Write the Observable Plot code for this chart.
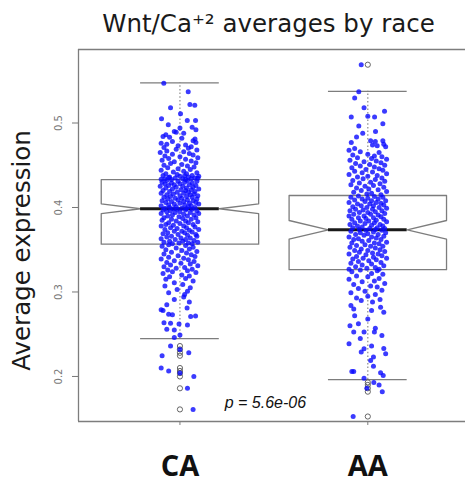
<!DOCTYPE html>
<html><head><meta charset="utf-8">
<script src="https://cdn.jsdelivr.net/npm/d3@7"></script>
<script src="https://cdn.jsdelivr.net/npm/@observablehq/plot@0.6"></script>
<style>html,body{margin:0;padding:0;background:#fff;} svg{display:block}</style>
</head><body><div id="chart"></div>
<script>
// ---- data ----
const groups = ["CA", "AA"];
const groupPos = [1, 2];
const q1 = [0.3566, 0.3264];
const medians = [0.3985, 0.3736];
const q3 = [0.4329, 0.4142];
const whiskerLow = [0.2448, 0.1962];
const whiskerHigh = [0.5474, 0.5375];
const notchHalf = [0.0058, 0.011];
const yTicks = [0.2, 0.3, 0.4, 0.5];
const titleText = "Wnt/Ca\u207A\u00B2 averages by race";
const yLabel = "Average expression";
const pNote = {x: 1.455, y: 0.1693, text: "p = 5.6e-06"};

// [value, horizontal jitter]
const caPoints = [
[0.547,-0.086],[0.537,0.044],[0.522,0.053],[0.521,0.079],[0.518,-0.05],[0.511,0.003],[0.505,-0.098],[0.503,0.039],[0.503,0.083],[0.498,-0.062],[0.495,0.065],[0.494,0.0],[0.492,0.085],[0.49,-0.03],[0.489,-0.02],[0.488,0.02],[0.486,-0.075],[0.484,-0.09],[0.483,-0.055],[0.482,0.01],[0.481,0.08],[0.479,0.07],[0.478,-0.04],[0.477,0.085],[0.476,-0.1],[0.475,-0.07],[0.474,0.03],[0.473,-0.01],[0.472,0.06],[0.471,-0.085],[0.47,0.045],
[0.469,-0.02],[0.468,0.09],[0.467,-0.07],[0.466,0.02],[0.465,-0.105],[0.464,0.05],[0.463,-0.04],[0.462,0.07],[0.461,-0.08],[0.460,0.0],[0.459,0.095],[0.458,-0.06],[0.457,0.03],[0.456,-0.095],[0.455,0.06],[0.454,-0.03],[0.453,0.085],[0.452,-0.05],[0.451,0.01],[0.450,-0.085],[0.449,0.04],[0.448,0.075],[0.447,-0.065],[0.446,-0.01],[0.445,0.055],[0.444,-0.1],[0.443,0.02],[0.442,-0.035],[0.441,0.09],[0.440,-0.075],[0.440,0.035],[0.439,-0.015],[0.438,0.065],[0.438,-0.09],[0.437,0.0],[0.437,0.1],[0.436,-0.055],[0.436,0.045],[0.435,-0.025],[0.435,0.08],[0.434,-0.08],[0.434,0.015],[0.434,0.06],[0.433,-0.045],[0.433,0.03],[0.4335,-0.1],[0.4345,0.095],[0.4355,-0.06],[0.4375,0.025],
[0.432,-0.07],[0.432,0.04],[0.431,-0.01],[0.431,0.09],[0.430,-0.095],[0.430,0.025],[0.429,-0.045],[0.429,0.065],[0.428,0.0],[0.428,-0.08],[0.427,0.05],[0.427,-0.03],[0.426,0.085],[0.426,-0.06],[0.425,0.015],[0.425,-0.105],[0.424,0.07],[0.424,-0.02],[0.423,0.035],[0.423,-0.075],[0.422,0.1],[0.422,-0.04],[0.421,0.005],[0.421,0.06],[0.420,-0.09],[0.420,0.03],[0.419,-0.055],[0.419,0.08],[0.418,-0.015],[0.418,0.045],[0.417,-0.1],[0.417,0.02],[0.416,0.075],[0.416,-0.035],[0.415,0.055],[0.415,-0.07],[0.414,0.0],[0.414,0.095],[0.413,-0.05],[0.413,0.035],[0.412,-0.085],[0.412,0.065],[0.411,-0.025],[0.411,0.01],[0.410,0.09],[0.410,-0.065],[0.409,0.04],[0.409,-0.01],[0.408,-0.095],[0.408,0.07],[0.407,0.02],[0.407,-0.045],[0.406,0.085],[0.406,-0.075],[0.405,0.0],[0.405,0.05],[0.404,-0.03],[0.404,0.1],[0.403,-0.06],[0.403,0.025],[0.402,0.06],[0.402,-0.1],[0.401,-0.02],[0.401,0.045],[0.400,0.08],[0.400,-0.055],[0.399,0.01],[0.399,-0.08],[0.3985,0.035],[0.3985,-0.035],
[0.398,0.065],[0.398,-0.015],[0.397,-0.09],[0.397,0.03],[0.396,0.09],[0.396,-0.05],[0.395,0.0],[0.395,-0.07],[0.394,0.055],[0.394,-0.025],[0.393,0.1],[0.393,-0.1],[0.392,0.02],[0.391,-0.04],[0.391,0.075],[0.390,-0.065],[0.390,0.04],[0.389,-0.005],[0.388,0.085],[0.388,-0.085],[0.387,0.015],[0.386,-0.045],[0.386,0.06],[0.385,-0.095],[0.384,0.03],[0.384,-0.02],[0.383,0.095],[0.382,-0.06],[0.382,0.045],[0.381,0.0],[0.380,-0.075],[0.380,0.07],[0.379,-0.035],[0.378,0.02],[0.378,-0.1],[0.377,0.08],[0.376,-0.05],[0.376,0.035],[0.375,-0.015],[0.374,0.1],[0.374,-0.08],[0.373,0.05],[0.372,-0.03],[0.372,0.01],[0.371,0.065],[0.370,-0.065],[0.370,0.025],[0.369,-0.09],[0.368,0.085],[0.368,-0.01],[0.367,0.04],[0.366,-0.045],[0.366,0.09],[0.365,-0.07],[0.364,0.005],[0.364,0.055],[0.363,-0.1],[0.362,0.03],[0.362,-0.025],[0.361,0.075],[0.360,-0.055],[0.360,0.015],[0.359,0.095],[0.359,-0.085],[0.358,-0.005],[0.358,0.045],[0.357,-0.04],[0.357,0.065],
[0.356,-0.06],[0.355,0.03],[0.354,-0.095],[0.353,0.07],[0.352,-0.02],[0.351,0.05],[0.350,-0.075],[0.349,0.01],[0.348,0.09],[0.347,-0.045],[0.346,0.035],[0.345,-0.085],[0.344,0.06],[0.343,-0.01],[0.342,0.08],[0.341,-0.06],[0.340,0.02],[0.339,-0.1],[0.338,0.045],[0.337,-0.03],[0.336,0.075],[0.335,-0.07],[0.334,0.005],[0.333,0.055],[0.332,-0.05],[0.331,0.095],[0.330,-0.085],[0.329,0.025],[0.328,-0.02],[0.327,0.065],[0.326,-0.065],[0.325,0.04],[0.324,-0.04],[0.323,0.085],[0.322,-0.09],[0.320,0.01],[0.319,0.05],[0.318,-0.055],[0.316,0.03],[0.315,-0.075],[0.313,0.07],[0.311,-0.03],[0.309,0.015],[0.307,-0.08],[0.305,0.055],[0.303,-0.015],[0.301,0.04],[0.299,-0.06],[0.297,0.025],
[0.294,0.02],[0.291,-0.03],[0.288,0.05],[0.285,-0.07],[0.281,0.038],[0.279,-0.1],[0.278,-0.09],[0.2735,-0.06],[0.273,-0.04],[0.2715,0.083],[0.271,0.057],[0.2635,-0.085],[0.263,-0.05],[0.262,-0.005],[0.261,0.04],[0.2558,-0.07],[0.255,-0.03],[0.249,0.0],[0.246,-0.03],
[0.236,-0.05],[0.232,0.0],[0.228,0.047],[0.2245,-0.095],[0.210,-0.1],[0.2065,-0.06],[0.204,0.0],[0.200,0.074],[0.186,0.04],[0.161,0.07]
];

const aaPoints = [
[0.569,-0.035],[0.537,-0.048],[0.5296,-0.07],[0.518,-0.02],[0.514,0.089],[0.507,-0.088],[0.508,0.0],[0.507,0.036],[0.499,0.08],[0.4965,-0.048],[0.490,0.041],[0.488,-0.027],[0.4834,-0.06],[0.479,0.015],[0.478,0.04],[0.479,0.08],[0.475,0.085],[0.4768,-0.088],[0.474,0.025],[0.473,0.05],[0.472,0.095],[0.4697,-0.07],[0.4677,-0.1],[0.466,-0.04],[0.465,0.06],[0.463,0.0],[0.462,-0.08],[0.461,0.035],[0.460,0.075],
[0.459,-0.055],[0.458,0.02],[0.457,0.1],[0.456,-0.095],[0.455,0.045],[0.454,-0.02],[0.453,0.07],[0.452,-0.065],[0.451,0.01],[0.450,0.09],[0.449,-0.04],[0.448,0.035],[0.447,-0.085],[0.446,0.06],[0.445,-0.01],[0.444,0.08],[0.443,-0.07],[0.442,0.025],[0.441,-0.03],[0.440,0.1],[0.439,-0.1],[0.438,0.05],[0.437,0.0],[0.436,-0.055],[0.435,0.075],[0.434,-0.025],[0.433,0.04],[0.432,-0.08],[0.431,0.09],[0.430,0.015],[0.429,-0.045],[0.428,0.065],[0.427,-0.09],[0.426,0.03],[0.425,-0.015],[0.424,0.085],[0.423,-0.06],[0.422,0.005],[0.421,0.055],[0.420,-0.035],[0.419,0.1],[0.418,-0.075],[0.417,0.02],[0.416,-0.005],[0.415,0.07],
[0.4135,-0.05],[0.413,0.035],[0.412,-0.09],[0.412,0.08],[0.411,0.0],[0.410,-0.03],[0.410,0.055],[0.409,-0.07],[0.408,0.02],[0.408,0.095],[0.407,-0.015],[0.406,-0.1],[0.406,0.045],[0.405,0.07],[0.404,-0.055],[0.404,0.01],[0.403,0.085],[0.402,-0.035],[0.402,0.03],[0.401,-0.08],[0.400,0.06],[0.400,-0.005],[0.399,0.1],[0.398,-0.065],[0.398,0.025],[0.397,-0.025],[0.396,0.075],[0.396,-0.095],[0.395,0.04],[0.394,-0.045],[0.394,0.0],[0.393,0.09],[0.392,-0.075],[0.392,0.015],[0.391,0.055],[0.390,-0.02],[0.390,-0.1],[0.389,0.07],[0.388,0.03],[0.388,-0.05],[0.387,-0.01],[0.386,0.085],[0.386,-0.085],[0.385,0.045],[0.384,-0.04],[0.384,0.005],[0.383,0.1],[0.382,-0.07],[0.382,0.035],[0.381,-0.015],[0.380,0.065],[0.380,-0.095],[0.379,0.02],[0.378,-0.055],[0.378,0.08],[0.377,-0.03],[0.376,0.05],[0.376,-0.08],[0.375,0.01],[0.375,0.09],[0.374,-0.045],[0.374,0.04],
[0.373,-0.01],[0.373,0.075],[0.372,-0.09],[0.371,0.03],[0.370,-0.04],[0.370,0.095],[0.369,0.0],[0.368,-0.065],[0.368,0.055],[0.367,-0.02],[0.366,0.085],[0.365,-0.1],[0.365,0.02],[0.364,0.045],[0.363,-0.05],[0.362,0.07],[0.362,-0.075],[0.361,0.005],[0.360,-0.03],[0.359,0.1],[0.358,-0.085],[0.358,0.035],[0.357,0.06],[0.356,-0.015],[0.355,-0.06],[0.354,0.08],[0.354,0.015],[0.353,-0.095],[0.352,0.04],[0.351,-0.035],[0.350,0.065],[0.349,-0.07],[0.349,0.0],[0.348,0.09],[0.347,-0.045],[0.346,0.025],[0.345,-0.1],[0.345,0.055],[0.344,-0.01],[0.343,0.075],[0.342,-0.06],[0.341,0.03],[0.340,-0.025],[0.340,0.1],[0.339,-0.08],[0.338,0.045],[0.337,0.005],[0.336,-0.05],[0.335,0.07],[0.334,-0.09],[0.333,0.02],[0.332,-0.03],[0.331,0.085],[0.330,-0.065],[0.329,0.04],[0.328,-0.005],[0.327,0.06],[0.327,-0.1],
[0.326,-0.04],[0.325,0.05],[0.324,-0.085],[0.322,0.02],[0.321,0.08],[0.319,-0.06],[0.318,0.0],[0.316,0.06],[0.315,-0.1],[0.313,0.035],[0.312,-0.03],[0.310,0.09],[0.309,-0.075],[0.307,0.015],[0.306,0.05],[0.304,-0.05],[0.302,0.075],[0.301,-0.015],[0.299,-0.09],[0.297,0.04],[0.295,0.0],[0.293,-0.06],[0.291,0.065],[0.290,-0.035],[0.288,0.025],
[0.284,-0.09],[0.282,0.068],[0.280,-0.075],[0.278,0.02],[0.276,0.085],[0.272,-0.07],[0.268,0.0],[0.2625,-0.05],[0.260,-0.095],[0.257,0.04],[0.2525,-0.075],[0.2525,-0.02],[0.2525,0.035],[0.2486,0.075],[0.245,-0.04],[0.2388,-0.1],[0.236,0.02],[0.2329,-0.02],[0.233,0.085],[0.2289,-0.035],[0.227,0.095],[0.2229,0.03],[0.219,0.015],[0.212,0.03],[0.206,-0.075],[0.206,-0.085],[0.2044,0.068],[0.2012,0.082],[0.198,-0.02],
[0.193,0.032],[0.190,0.06],[0.186,-0.005],[0.182,0.077],[0.1526,-0.078]
];

// ---- layout ----
const xDomain = [0.46, 2.52];
const yDomain = [0.1467, 0.587];
const boxHalf = 0.419;
const gray = "#7d7d7d";

const pointSets = [caPoints, aaPoints];
const points = groups.flatMap((g, i) => pointSets[i].map(([v, j]) => ({g, pos: groupPos[i], jit: j, v})));
const outliers = points.filter(d => {
  const i = groups.indexOf(d.g);
  return d.v < whiskerLow[i] - 1e-4 || d.v > whiskerHigh[i] + 1e-4;
});
const stats = groups.map((g, i) => ({g, pos: groupPos[i], q1: q1[i], med: medians[i], q3: q3[i], lo: whiskerLow[i], hi: whiskerHigh[i], n: notchHalf[i]}));
const outline = stats.flatMap(s => {
  const x = s.pos, w = boxHalf;
  return [[x-w,s.q1],[x-w,s.med-s.n],[x-w/2,s.med],[x-w,s.med+s.n],[x-w,s.q3],[x+w,s.q3],[x+w,s.med+s.n],[x+w/2,s.med],[x+w,s.med-s.n],[x+w,s.q1],[x-w,s.q1]]
    .map(([px, py]) => ({g: s.g, px, py}));
});

const chart = Plot.plot({
  width: 465, height: 485,
  marginLeft: 78, marginRight: 0, marginTop: 49, marginBottom: 64,
  style: {fontFamily: "DejaVu Sans", background: "#fff"},
  x: {domain: xDomain},
  y: {domain: yDomain},
  marks: [
    Plot.ruleX([xDomain[0]], {stroke: gray, strokeWidth: 1.3}),
    Plot.ruleY(yDomain, {stroke: gray, strokeWidth: 1.3}),
    Plot.axisY({ticks: yTicks, tickSize: 6, tickPadding: 11, tickRotate: -90, fontSize: 10, color: "#777", label: null, tickFormat: d => d.toFixed(1)}),
    Plot.axisX({ticks: groupPos, tickSize: 4, tickPadding: 30, tickFormat: (d) => groups[groupPos.indexOf(d)], fontSize: 29, fontWeight: "bold", fontFamily: "Open Sans", fill: "#111", stroke: gray, label: null}),
    Plot.ruleX(stats, {x: "pos", y1: "q3", y2: "hi", stroke: "#8a8a8a", strokeDasharray: "1.5,2.2", strokeWidth: 1.2}),
    Plot.ruleX(stats, {x: "pos", y1: "lo", y2: "q1", stroke: "#8a8a8a", strokeDasharray: "1.5,2.2", strokeWidth: 1.2}),
    Plot.ruleY(stats, {y: "hi", x1: d => d.pos - boxHalf/2, x2: d => d.pos + boxHalf/2, stroke: gray, strokeWidth: 1.3}),
    Plot.ruleY(stats, {y: "lo", x1: d => d.pos - boxHalf/2, x2: d => d.pos + boxHalf/2, stroke: gray, strokeWidth: 1.3}),
    Plot.line(outline, {x: "px", y: "py", z: "g", stroke: gray, strokeWidth: 1.3}),
    Plot.ruleY(stats, {y: "med", x1: d => d.pos - boxHalf/2, x2: d => d.pos + boxHalf/2, stroke: "#1a1a1a", strokeWidth: 3}),
    Plot.dot(outliers, {x: "pos", y: "v", r: 2.6, stroke: "#555", strokeWidth: 0.9, fill: "none"}),
    Plot.dot(points, {x: d => d.pos + d.jit, y: "v", r: 2.5, fill: "#0a0aff", fillOpacity: 0.8, stroke: "none"}),
    Plot.text([pNote], {x: "x", y: "y", text: "text", fontSize: 16, fontStyle: "italic", fontFamily: "Liberation Sans", fill: "#111"}),
    Plot.text([yLabel], {frameAnchor: "left", textAnchor: "middle", dx: -56, dy: 15, rotate: -90, fontSize: 24.5, fill: "#1a1a1a"}),
    Plot.text([titleText], {frameAnchor: "top", textAnchor: "middle", dx: -3.5, dy: -18, lineAnchor: "bottom", fontSize: 24.5, fill: "#1a1a1a"})
  ]
});
document.getElementById("chart").appendChild(chart);
</script>
</body></html>
